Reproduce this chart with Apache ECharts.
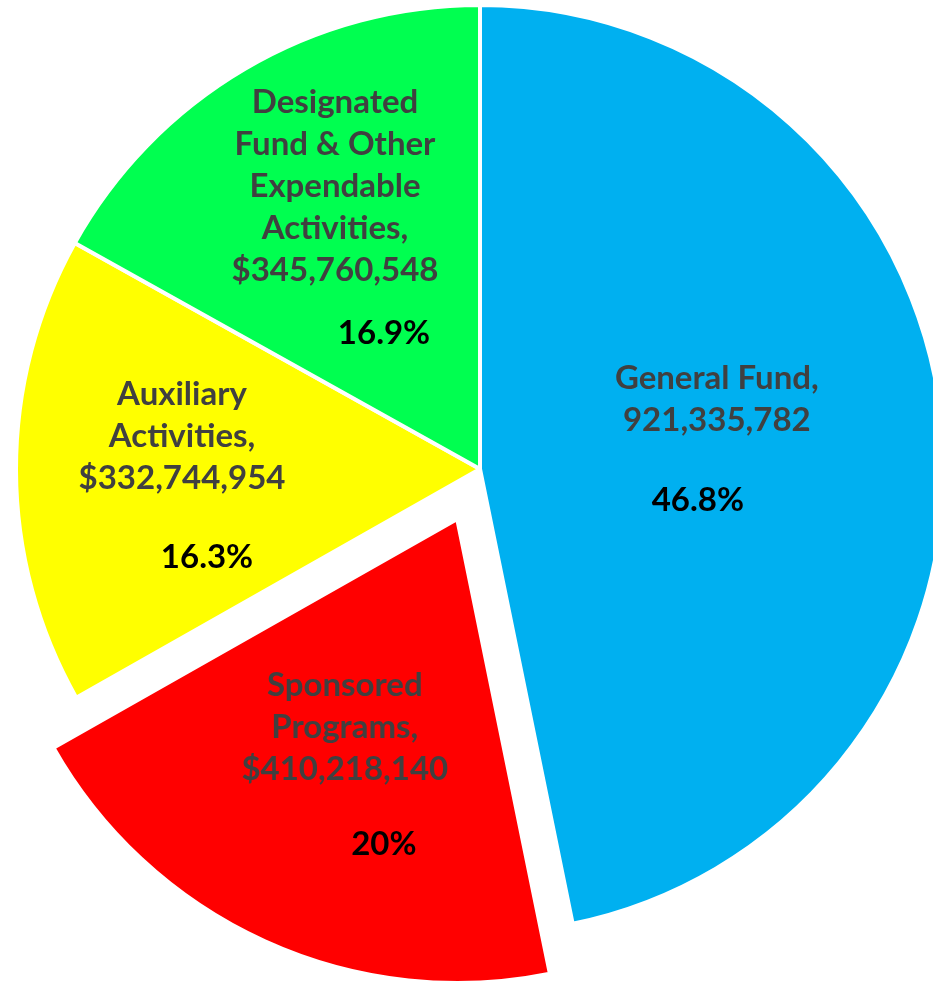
<!DOCTYPE html>
<html>
<head>
<meta charset="utf-8">
<script src="https://cdn.jsdelivr.net/npm/echarts@6/dist/echarts.min.js"></script>
<style>
  html, body { margin: 0; padding: 0; background: #fff; }
  #chart { width: 933px; height: 983px; }
</style>
</head>
<body>
<div id="chart"></div>
<script>
// fund categories, clockwise from 12 o'clock
const categories = ['General Fund', 'Sponsored Programs', 'Auxiliary Activities', 'Designated Fund & Other Expendable Activities'];
// how each name wraps in its label
const nameLines = [
  ['General Fund,'],
  ['Sponsored', 'Programs,'],
  ['Auxiliary', 'Activities,'],
  ['Designated', 'Fund & Other', 'Expendable', 'Activities,']
];
const amounts = [921335782, 410218140, 332744954, 345760548];
const amountPrefix = ['', '$', '$', '$'];
// share of total in percent (slice sizes)
const shares = [46.8, 20, 16.3, 16.9];

const colors = ['#00B0F0', '#FF0000', '#FFFF00', '#00FF50'];

// label tweaks (style only)
const labelOffsets = [[3, -6], [-15, 32], [-63, 6], [-26, -48]];
const percentShift = [-19, 39, 25, 49];
const percentGap = [38, 33, 37, 21];

const font = 'Lato, "Open Sans", sans-serif';
const rich = {
  n: { fontFamily: font, fontSize: 33, fontWeight: 'bold', color: '#404040', lineHeight: 42 }
};
shares.forEach((s, i) => {
  const sh = percentShift[i];
  rich['g' + i] = { fontSize: 10, lineHeight: percentGap[i] };
  rich['p' + i] = {
    fontFamily: font, fontSize: 33, fontWeight: 'bold', color: '#000', lineHeight: 42,
    padding: sh < 0 ? [0, -2 * sh, 0, 0] : [0, 0, 0, 2 * sh]
  };
});

const chart = echarts.init(document.getElementById('chart'));

chart.setOption({
  backgroundColor: '#fff',
  animation: false,
  series: [
    {
      type: 'pie',
      center: [480, 469],
      radius: 464,
      startAngle: 90,
      clockwise: true,
      selectedMode: 'single',
      selectedOffset: 55,
      itemStyle: { borderColor: '#fff', borderWidth: 4 },
      emphasis: { disabled: true },
      labelLine: { show: false },
      label: {
        show: true,
        position: 'inside',
        align: 'center',
        verticalAlign: 'middle',
        rich: rich,
        formatter: function (p) {
          const i = p.dataIndex;
          const lines = nameLines[i].map(l => '{n|' + l + '}');
          lines.push('{n|' + amountPrefix[i] + amounts[i].toLocaleString('en-US') + '}');
          lines.push('{g' + i + '| }');
          lines.push('{p' + i + '|' + shares[i] + '%}');
          return lines.join('\n');
        }
      },
      data: categories.map((c, i) => ({
        name: c,
        value: shares[i],
        selected: i === 1,
        itemStyle: { color: colors[i] },
        label: { offset: labelOffsets[i] },
        select: { label: { offset: labelOffsets[i] } }
      }))
    }
  ]
});
</script>
</body>
</html>
